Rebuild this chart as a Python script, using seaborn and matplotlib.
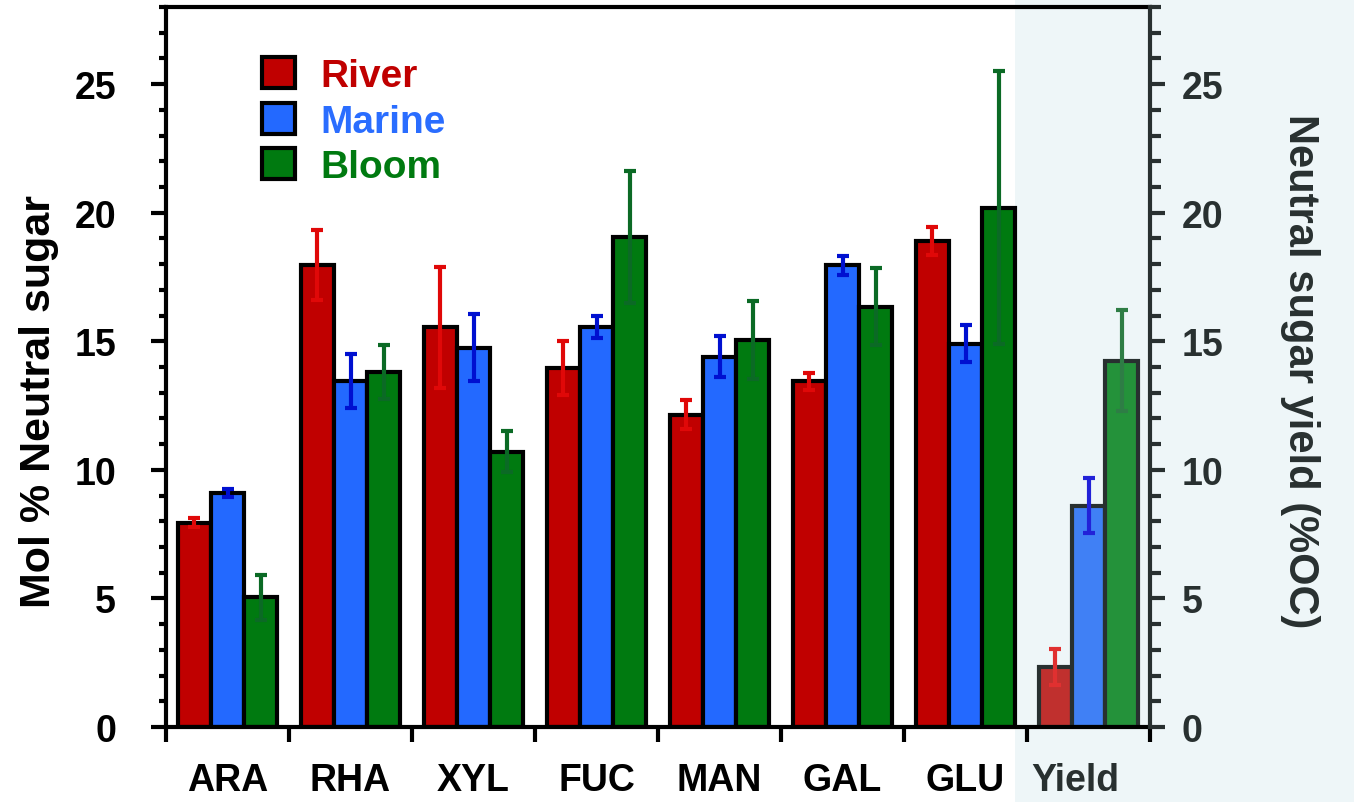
import matplotlib
matplotlib.use("Agg")
import matplotlib.pyplot as plt
import matplotlib.transforms as mtransforms
import seaborn as sns
import pandas as pd
import numpy as np
from matplotlib.ticker import MultipleLocator
from matplotlib.patches import Rectangle, Patch

# ---------------- data ----------------
categories = ["ARA", "RHA", "XYL", "FUC", "MAN", "GAL", "GLU", "Yield"]
sources = ["River", "Marine", "Bloom"]
river = [7.95, 17.95, 15.55, 13.95, 12.15, 13.45, 18.9, 2.33]
river_err = [0.17, 1.36, 2.35, 1.05, 0.57, 0.33, 0.55, 0.7]
marine = [9.1, 13.45, 14.75, 15.55, 14.4, 17.95, 14.9, 8.6]
marine_err = [0.17, 1.05, 1.3, 0.43, 0.8, 0.38, 0.72, 1.07]
bloom = [5.05, 13.8, 10.7, 19.05, 15.05, 16.35, 20.2, 14.25]
bloom_err = [0.88, 1.05, 0.8, 2.57, 1.5, 1.5, 5.3, 1.95]
y_ticks = [0, 5, 10, 15, 20, 25]

# ---------------- styles ----------------
bar_colors = ["#c00000", "#2369ff", "#007a10"]
yield_colors = ["#c0302e", "#4080f5", "#24923a"]
err_colors = ["#e00808", "#0010d0", "#0b6a25"]
yield_err_colors = ["#e03030", "#2222d8", "#2e7d45"]
legend_text_colors = ["#c00000", "#2a6dff", "#007a10"]
dark = "#283030"
shade = "#eef6f8"

sns.set_theme(style="white")
plt.rcParams["font.family"] = ["Liberation Sans", "DejaVu Sans"]
plt.rcParams["font.weight"] = "bold"

values = {"River": river, "Marine": marine, "Bloom": bloom}
errors = {"River": river_err, "Marine": marine_err, "Bloom": bloom_err}
rows = []
for s in sources:
    for c, v in zip(categories, values[s]):
        rows.append({"category": c, "source": s, "value": v})
df = pd.DataFrame(rows)

W, H = 1354, 803
fig = plt.figure(figsize=(W / 100, H / 100), dpi=100)
fig.patch.set_facecolor("white")
fig.patches.append(Rectangle((1015 / W, 0), 1 - 1015 / W, 1, transform=fig.transFigure,
                             facecolor=shade, edgecolor="none", zorder=-10))

left, right, top, bottom = 166, 1150, 8, 728
ax = fig.add_axes([left / W, 1 - bottom / H, (right - left) / W, (bottom - top) / H])
ax.set_facecolor("none")

sns.barplot(data=df, x="category", y="value", hue="source", order=categories,
            hue_order=sources, palette=bar_colors, saturation=1, width=0.81,
            edgecolor="black", linewidth=3, errorbar=None, legend=False, ax=ax, zorder=2)

for i, (s, cont) in enumerate(zip(sources, ax.containers)):
    for j, bar in enumerate(cont):
        x = bar.get_x() + bar.get_width() / 2
        h = bar.get_height()
        is_yield = categories[j] == "Yield"
        if is_yield:
            bar.set_facecolor(yield_colors[i])
            bar.set_edgecolor(dark)
        ec = yield_err_colors[i] if is_yield else err_colors[i]
        ax.errorbar(x, h, yerr=errors[s][j], fmt="none", ecolor=ec, elinewidth=3,
                    capsize=4.5, capthick=3, zorder=4)

ax.set_xlim(-0.5, 7.5)
ax.set_ylim(0, 28)
ax.set_xlabel("")
ax.set_ylabel("")

# x ticks: marks at boundaries, labels at centers
ax.set_xticks(np.arange(-0.5, 8.0, 1.0))
ax.set_xticklabels([])
ax.set_xticks(np.arange(len(categories)), minor=True)
ax.set_xticklabels(categories, minor=True, fontsize=27, fontweight="bold")
ax.tick_params(axis="x", which="major", length=11, width=3, direction="out", color="black", bottom=True)
ax.tick_params(axis="x", which="minor", length=0, pad=25, bottom=True, labelcolor="black")
ylab = ax.get_xticklabels(minor=True)[-1]
ylab.set_color(dark)
ylab.set_transform(ylab.get_transform() + mtransforms.ScaledTranslation(-0.13, 0, fig.dpi_scale_trans))

ax.set_yticks(y_ticks)
ax.yaxis.set_minor_locator(MultipleLocator(1))
ax.set_yticklabels([str(t) for t in y_ticks], fontsize=27, fontweight="bold")
ax.tick_params(axis="y", which="major", length=11, width=3, direction="out", pad=25, left=True,
               color="black", labelcolor="black")
ax.tick_params(axis="y", which="minor", length=5, width=3, direction="out", left=True, color="black")

for sp in ["left", "bottom", "top"]:
    ax.spines[sp].set_color("black")
    ax.spines[sp].set_linewidth(3)
ax.spines["right"].set_visible(False)

ax2 = ax.twinx()
ax2.set_ylim(0, 28)
ax2.set_yticks(y_ticks)
ax2.yaxis.set_minor_locator(MultipleLocator(1))
ax2.set_yticklabels([str(t) for t in y_ticks], fontsize=27, fontweight="bold", color=dark)
ax2.tick_params(axis="y", which="major", length=11, width=3, direction="out", pad=12, right=True, color=dark)
ax2.tick_params(axis="y", which="minor", length=8, width=3, direction="out", right=True, color=dark)
for sp in ["left", "bottom", "top"]:
    ax2.spines[sp].set_visible(False)
ax2.spines["right"].set_color(dark)
ax2.spines["right"].set_linewidth(3)
ax2.grid(False)
ax.grid(False)

# legend
handles = [Patch(facecolor=c, edgecolor="black", linewidth=3) for c in bar_colors]
leg = ax.legend(handles, sources, loc="upper left", bbox_to_anchor=(0.0976, 0.93),
                frameon=False, prop={"size": 28, "weight": "bold"}, handlelength=0.85,
                handleheight=0.85, handletextpad=0.65, labelspacing=0.22, borderpad=0,
                borderaxespad=0)
for t, c in zip(leg.get_texts(), legend_text_colors):
    t.set_color(c)

fig.text(39 / W, 1 - 401 / H, "Mol % Neutral sugar", rotation=90, ha="center", va="center",
         fontsize=31, fontweight="bold", color="black")
fig.text(1300 / W, 1 - 371 / H, "Neutral sugar yield (%OC)", rotation=270, ha="center",
         va="center", fontsize=30, fontweight="bold", color=dark)

fig.savefig("out.png", dpi=100, facecolor="white")
